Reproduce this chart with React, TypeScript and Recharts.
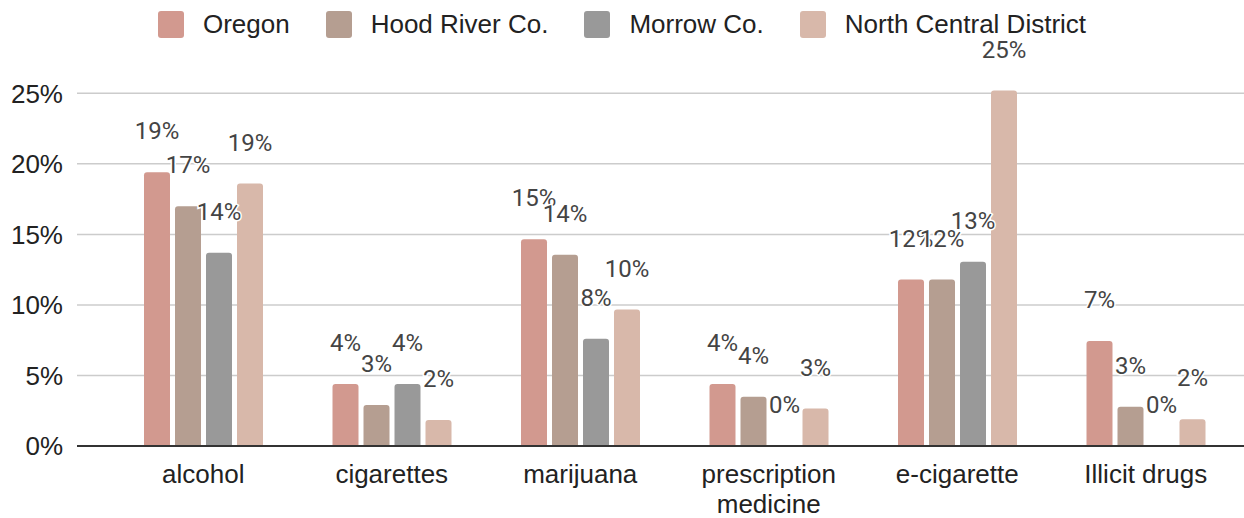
import React from "react";
import {
  BarChart,
  Bar,
  XAxis,
  YAxis,
  CartesianGrid,
  LabelList
} from "recharts";

const categories = [
  "alcohol",
  "cigarettes",
  "marijuana",
  "prescription medicine",
  "e-cigarette",
  "Illicit drugs"
];

const oregon = [19.4, 4.4, 14.65, 4.4, 11.8, 7.44];
const hoodRiver = [17.0, 2.9, 13.55, 3.5, 11.8, 2.79];
const morrow = [13.7, 4.4, 7.6, 0, 13.06, 0];
const northCentral = [18.6, 1.85, 9.67, 2.65, 25.2, 1.89];

const yTicks = [0, 5, 10, 15, 20, 25];

const series = [
  { key: "oregon", name: "Oregon", color: "#d2998f" },
  { key: "hoodRiver", name: "Hood River Co.", color: "#b59e91" },
  { key: "morrow", name: "Morrow Co.", color: "#999999" },
  { key: "northCentral", name: "North Central District", color: "#d8b8aa" }
];

const chartData = categories.map((name, i) => ({
  name,
  oregon: oregon[i],
  hoodRiver: hoodRiver[i],
  morrow: morrow[i],
  northCentral: northCentral[i]
}));

const AXIS_FONT = "'Liberation Sans', Arial, sans-serif";

// long names go on two lines, like the sheet does
function CategoryTick(props: any) {
  const { x, y, payload } = props;
  const label = String(payload.value);
  const lines = label.length > 14 ? label.split(" ") : [label];
  return (
    <text
      x={x}
      y={y + 18}
      textAnchor="middle"
      fontSize={26}
      fontFamily={AXIS_FONT}
      fill="#222"
    >
      {lines.map((line, i) => (
        <tspan key={i} x={x} dy={i === 0 ? 0 : 30}>
          {line}
        </tspan>
      ))}
    </text>
  );
}

function renderValueLabel(props: any) {
  const { x, y, width, height, value } = props;
  if (value === undefined || value === null) return null;
  // bar top; zero bars get a 1px stub so measure from the baseline
  const top = Number(value) === 0 ? Number(y) + Number(height) : Number(y);
  return (
    <text
      x={Number(x) + Number(width) / 2}
      y={top - 33}
      textAnchor="middle"
      fontSize={24}
      fontFamily="Roboto, sans-serif"
      fill="#444"
      stroke="#fff"
      strokeWidth={3}
      style={{ paintOrder: "stroke" }}
    >
      {`${Math.round(Number(value))}%`}
    </text>
  );
}

function ChartLegend() {
  return (
    <div
      style={{
        position: "absolute",
        top: 10,
        left: 0,
        width: 1244,
        display: "flex",
        justifyContent: "center",
        alignItems: "center",
        fontFamily: AXIS_FONT,
        fontSize: 26,
        color: "#222",
        height: 28
      }}
    >
      {series.map((s, i) => (
        <div
          key={s.key}
          style={{
            display: "flex",
            alignItems: "center",
            marginLeft: i === 0 ? 0 : 36
          }}
        >
          <span
            style={{
              width: 26,
              height: 27,
              borderRadius: 3,
              background: s.color,
              display: "inline-block",
              marginRight: 19
            }}
          />
          <span>{s.name}</span>
        </div>
      ))}
    </div>
  );
}

export default function App() {
  return (
    <div
      style={{
        position: "absolute",
        left: 0,
        top: 0,
        width: 1244,
        height: 518,
        background: "#fff"
      }}
    >
      <ChartLegend />
      <BarChart
        width={1244}
        height={518}
        data={chartData}
        margin={{ top: 51, right: 0, bottom: 0, left: 0 }}
        barSize={26}
        barGap={5}
      >
        <CartesianGrid
          vertical={false}
          horizontalValues={yTicks}
          stroke="#cccccc"
          strokeWidth={1.5}
        />
        <XAxis
          dataKey="name"
          height={72}
          padding={{ left: 32, right: 4 }}
          tickLine={false}
          tickMargin={13}
          axisLine={{ stroke: "#333", strokeWidth: 2 }}
          tick={<CategoryTick />}
          interval={0}
        />
        <YAxis
          width={77}
          domain={[0, 28]}
          ticks={yTicks}
          tickFormatter={(v) => `${v}%`}
          axisLine={false}
          tickLine={false}
          tickMargin={8}
          tick={{ fontSize: 26, fontFamily: AXIS_FONT, fill: "#222" }}
        />
        {series.map((s) => (
          <Bar
            key={s.key}
            dataKey={s.key}
            name={s.name}
            fill={s.color}
            radius={[3, 3, 0, 0]}
            minPointSize={1}
            isAnimationActive={false}
          >
            <LabelList dataKey={s.key} content={renderValueLabel} />
          </Bar>
        ))}
      </BarChart>
    </div>
  );
}
